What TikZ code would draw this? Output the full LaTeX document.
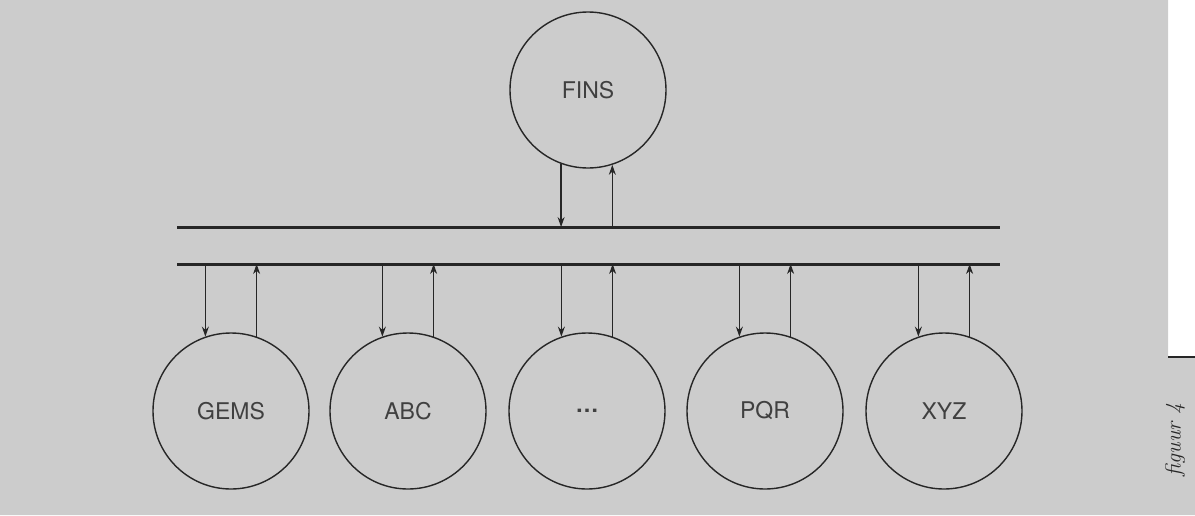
\documentclass[tikz,border=0pt]{standalone}
\usepackage{fontspec}
\usetikzlibrary{arrows.meta}
\newfontfamily\boxfont{TeX Gyre Heros}
\begin{document}
\begin{tikzpicture}[x=1pt, y=-1pt, >={Stealth[length=10pt, width=7pt]}, thick,
    sys/.style={circle, draw=black!85, line width=1.4pt, minimum size=156pt,
      inner sep=0pt, font=\boxfont\fontsize{23}{26}\selectfont, text=black!75},
    link/.style={->, line width=1.2pt, draw=black!85},
    bus/.style={line width=3pt, draw=black!85}]
  \useasboundingbox (0,0) rectangle (1195,515);

  % Paper background
  \fill[black!20] (0,0) -- (1168,0) -- (1168,357) -- (1195,357)
    -- (1195,515) -- (0,515) -- cycle;
  \draw[line width=1.8pt, black!85] (1168,357) -- (1195,357);

  % Bus (two rails)
  \coordinate (bustop) at (177,227);
  \coordinate (busbot) at (177,264);
  \draw[bus] (bustop) -- (1000,227);
  \draw[bus] (busbot) -- (1000,264);

  % Central system (top)
  \node[sys] (fins) at (588,90) {FINS};
  \draw[link] (fins.-110) -- (fins.-110 |- bustop);
  \draw[link] (fins.-72 |- bustop) -- (fins.-72);

  % Connected systems (bottom row)
  \node[sys] (gems) at (231,411) {GEMS};
  \node[sys] (abc) at (408,411) {ABC};
  \node[sys] (more) at (587,411) {\textbf{\ldots}};
  \node[sys] (pqr) at (765,411) {PQR};
  \node[sys] (xyz) at (944,411) {XYZ};

  % Bottom row: arrows
  \draw[link] (gems.109 |- busbot) -- (gems.109);
  \draw[link] (gems.71) -- (gems.71 |- busbot);
  \draw[link] (abc.109 |- busbot) -- (abc.109);
  \draw[link] (abc.71) -- (abc.71 |- busbot);
  \draw[link] (more.109 |- busbot) -- (more.109);
  \draw[link] (more.71) -- (more.71 |- busbot);
  \draw[link] (pqr.109 |- busbot) -- (pqr.109);
  \draw[link] (pqr.71) -- (pqr.71 |- busbot);
  \draw[link] (xyz.109 |- busbot) -- (xyz.109);
  \draw[link] (xyz.71) -- (xyz.71 |- busbot);

  % Caption at the right edge
  \node[rotate=90, font=\itshape\fontsize{22}{25}\selectfont, text=black!85]
    (caption) at (1175,440) {figuur 4};

\end{tikzpicture}
\end{document}
